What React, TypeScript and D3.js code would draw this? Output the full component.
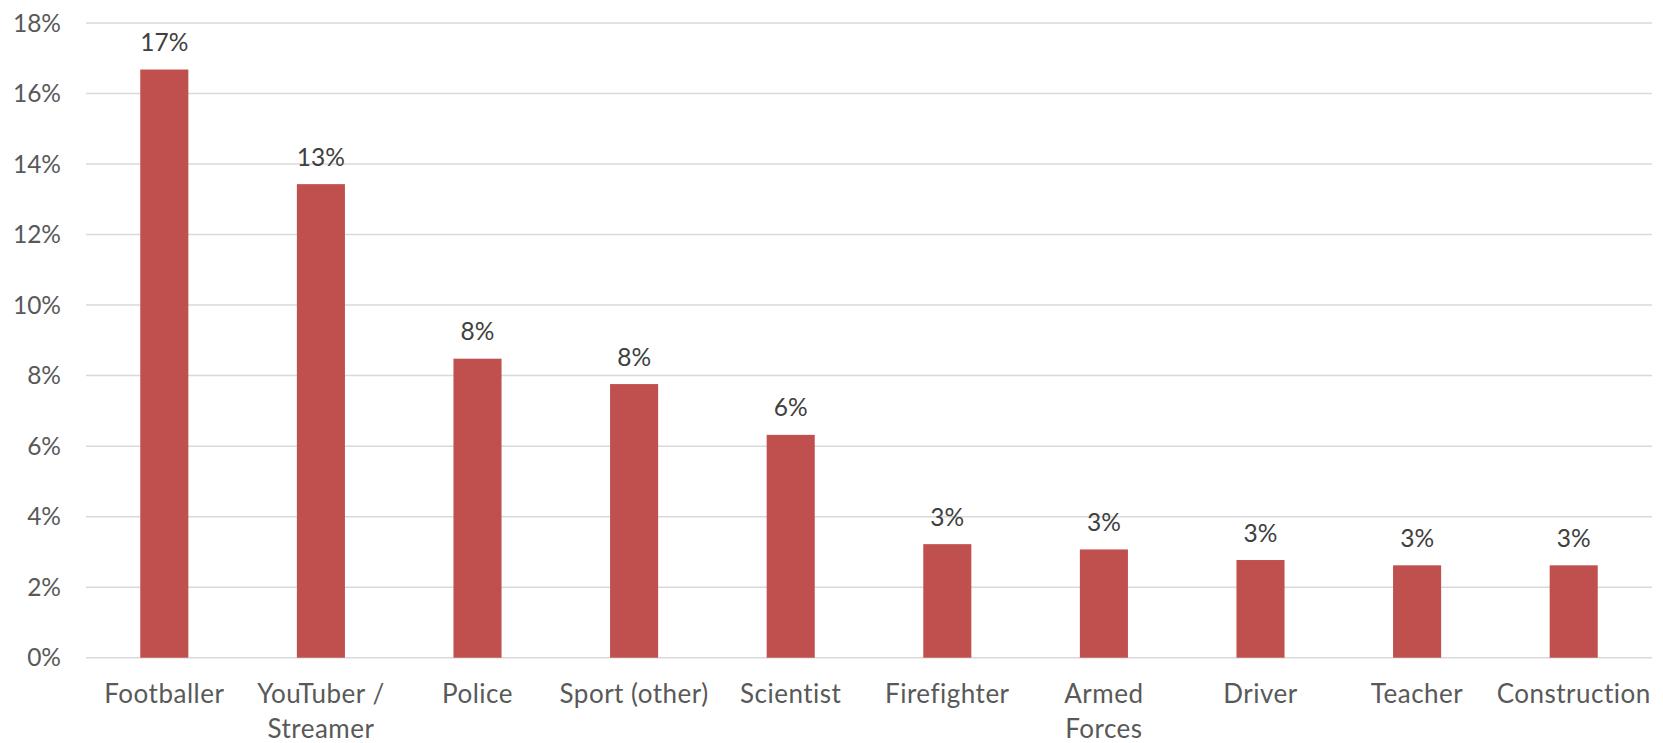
import React from "react";
import * as d3 from "d3";

const categories: string[][] = [
  ["Footballer"],
  ["YouTuber /", "Streamer"],
  ["Police"],
  ["Sport (other)"],
  ["Scientist"],
  ["Firefighter"],
  ["Armed", "Forces"],
  ["Driver"],
  ["Teacher"],
  ["Construction"],
];
const values: number[] = [16.68, 13.43, 8.48, 7.76, 6.32, 3.22, 3.07, 2.77, 2.62, 2.62];
const yTicks: number[] = [0, 2, 4, 6, 8, 10, 12, 14, 16, 18];

const W = 1663;
const H = 743;
const FONT = "Lato, 'Open Sans', sans-serif";

export default function App() {
  const x = d3
    .scaleBand<number>()
    .domain(d3.range(categories.length))
    .range([86, 1652])
    .paddingInner(0.693)
    .paddingOuter(0.3465);
  const y = d3.scaleLinear().domain([0, 18]).range([657.7, 23]);

  return (
    <div style={{ position: "absolute", left: 0, top: 0 }}>
      <svg width={W} height={H} style={{ display: "block" }} fontFamily={FONT}>
        <rect width={W} height={H} fill="#ffffff" />
        {yTicks.map((t) => (
          <g key={t}>
            <line x1={86} x2={1652} y1={y(t)} y2={y(t)} stroke="#d9d9d9" strokeWidth={1.5} />
            <text x={61} y={y(t) + 8.5} textAnchor="end" fontSize={24.5} fill="#595959">
              {t}%
            </text>
          </g>
        ))}
        {values.map((v, i) => (
          <g key={i}>
            <rect
              x={x(i)!}
              y={y(v)}
              width={x.bandwidth()}
              height={y(0) - y(v)}
              fill="#c0504d"
            />
            <text
              x={x(i)! + x.bandwidth() / 2}
              y={y(v) - 18.5}
              textAnchor="middle"
              fontSize={24.5}
              fill="#404040"
            >
              {Math.round(v)}%
            </text>
          </g>
        ))}
        {categories.map((lines, i) => (
          <text
            key={i}
            x={x(i)! + x.bandwidth() / 2}
            y={703}
            textAnchor="middle"
            fontSize={26}
            fill="#595959"
            letterSpacing={0.5}
          >
            {lines.map((l, j) => (
              <tspan key={j} x={x(i)! + x.bandwidth() / 2} dy={j === 0 ? 0 : 35}>
                {l}
              </tspan>
            ))}
          </text>
        ))}
      </svg>
    </div>
  );
}
